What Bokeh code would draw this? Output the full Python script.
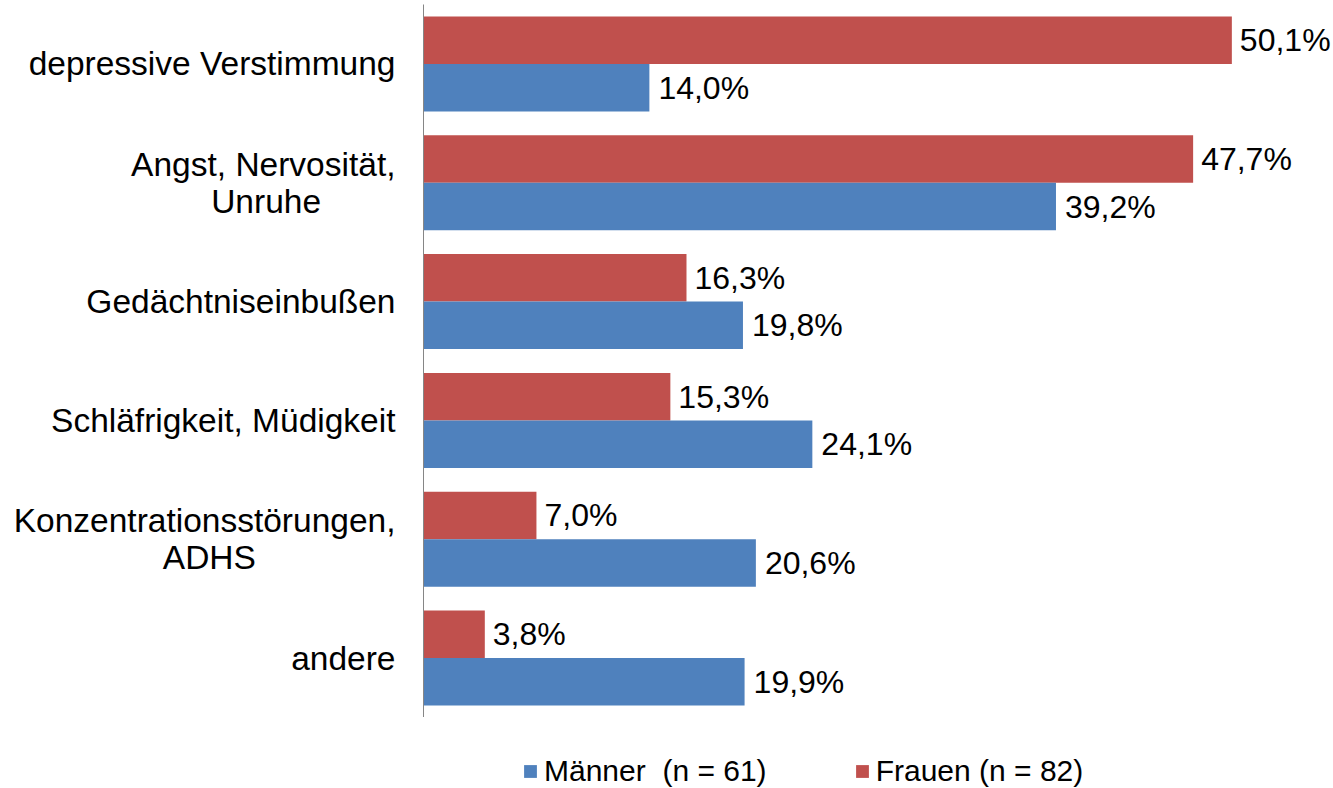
from bokeh.plotting import figure
from bokeh.layouts import column
from bokeh.models import ColumnDataSource, FactorRange, Range1d, Legend, LegendItem
from bokeh.transform import dodge
from bokeh.core.properties import value
from bokeh.embed import file_html
from bokeh.resources import INLINE

categories = [
    "depressive Verstimmung",
    "Angst, Nervosität,\nUnruhe",
    "Gedächtniseinbußen",
    "Schläfrigkeit, Müdigkeit",
    "Konzentrationsstörungen,\nADHS",
    "andere",
]
maenner = [14.0, 39.2, 19.8, 24.1, 20.6, 19.9]
frauen = [50.1, 47.7, 16.3, 15.3, 7.0, 3.8]
series_names = ["Männer  (n = 61)", "Frauen (n = 82)"]

FONT = "Liberation Sans"
BLUE = "#4F81BD"
RED = "#C0504D"
NBSP = "\u00a0"

# centre the second line of two-line labels under the first line
pad = {"Angst, Nervosität,\nUnruhe": 8, "Konzentrationsstörungen,\nADHS": 15}
labels = [c + NBSP * pad.get(c, 0) for c in categories]

def fmt(v):
    return f"{v:.1f}".replace(".", ",") + "%"

src = ColumnDataSource(dict(
    cat=labels,
    m=maenner,
    f=frauen,
    mlab=[fmt(v) for v in maenner],
    flab=[fmt(v) for v in frauen],
))

p = figure(
    width=1333, height=717,
    y_range=FactorRange(factors=list(reversed(labels))),
    x_range=Range1d(0, 56.4),
    output_backend="svg", toolbar_location=None,
    min_border_left=423, min_border_right=0, min_border_top=4, min_border_bottom=0,
)
p.outline_line_color = None
p.xgrid.visible = False
p.ygrid.visible = False
p.xaxis.visible = False

ax = p.yaxis[0]
ax.axis_line_color = "#868686"
ax.axis_line_width = 1
ax.major_tick_line_color = None
ax.minor_tick_line_color = None
ax.major_label_text_font = FONT
ax.major_label_text_font_size = "33.5px"
ax.major_label_text_color = "black"
ax.major_label_text_line_height = 1.0
ax.major_label_standoff = 22

rf = p.hbar(y=dodge("cat", 0.2, range=p.y_range), right="f", left=0, height=0.4,
            source=src, fill_color=RED, line_color=None)
rm = p.hbar(y=dodge("cat", -0.2, range=p.y_range), right="m", left=0, height=0.4,
            source=src, fill_color=BLUE, line_color=None)

p.text(x="f", y=dodge("cat", 0.2, range=p.y_range), text="flab", source=src,
       x_offset=8, text_baseline="middle", text_align="left",
       text_font=value(FONT), text_font_size="32px", text_color="black")
p.text(x="m", y=dodge("cat", -0.2, range=p.y_range), text="mlab", source=src,
       x_offset=9, text_baseline="middle", text_align="left",
       text_font=value(FONT), text_font_size="32px", text_color="black")

# legend strip below the chart (its frame is aligned with the chart's frame)
pl = figure(
    width=1333, height=71,
    x_range=Range1d(0, 1), y_range=Range1d(0, 1),
    output_backend="svg", toolbar_location=None,
    min_border_left=0, min_border_right=0, min_border_top=0, min_border_bottom=0,
)
pl.outline_line_color = None
pl.axis.visible = False
pl.grid.visible = False
# zero-size proxy glyphs that only carry the legend colours
lm = pl.rect(x=[0.5], y=[0.5], width=0, height=0, fill_color=BLUE, line_color=None)
lf = pl.rect(x=[0.5], y=[0.5], width=0, height=0, fill_color=RED, line_color=None)

legend = Legend(
    items=[LegendItem(label=series_names[0], renderers=[lm]),
           LegendItem(label=series_names[1], renderers=[lf])],
    orientation="horizontal",
    location=(99, 0),
    label_text_font=FONT,
    label_text_font_size="30px",
    label_text_color="black",
    label_height=30,
    glyph_width=16, glyph_height=16,
    label_standoff=6,
    spacing=87,
    padding=0, margin=0,
    border_line_color=None,
    background_fill_alpha=0,
)
pl.add_layout(legend, "center")

layout = column(p, pl, spacing=0)
open("out.html", "w").write(file_html(layout, INLINE))
